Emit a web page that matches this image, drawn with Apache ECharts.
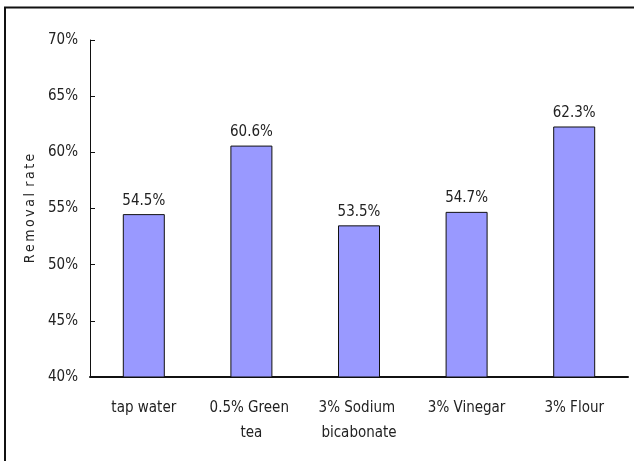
<!DOCTYPE html>
<html>
<head>
<meta charset="utf-8">
<script src="https://cdn.jsdelivr.net/npm/echarts@6/dist/echarts.min.js"></script>
<style>
  html, body { margin: 0; padding: 0; background: #fff; }
  #chart { width: 634px; height: 461px; }
</style>
</head>
<body>
<div id="chart"></div>
<script>
// Removal rate by washing solution
const categories = ['tap water', '0.5% Green tea', '3% Sodium bicabonate', '3% Vinegar', '3% Flour'];
const removalRate = [54.5, 60.6, 53.5, 54.7, 62.3];
const yTicks = [40, 45, 50, 55, 60, 65, 70];

// condensed face: the stretch keyword rides in the weight slot of the canvas font string
const FONT = '"DejaVu Sans"';
const STRETCH = 'condensed';
const TEXT = '#222';

const chart = echarts.init(document.getElementById('chart'), null, { renderer: 'canvas' });

chart.setOption({
  animation: false,
  backgroundColor: '#fff',
  graphic: [{
    type: 'rect',
    shape: { x: 5, y: 7.5, width: 700, height: 600 },
    style: { fill: 'none', stroke: '#111', lineWidth: 2 },
    silent: true
  }],
  grid: { left: 90, right: 6, top: 40, bottom: 84, outerBoundsMode: 'none', containLabel: false },
  xAxis: {
    type: 'category',
    data: categories,
    axisLine: { lineStyle: { color: '#111', width: 2 } },
    axisTick: { inside: true, length: 4, lineStyle: { color: '#111', width: 1 } },
    axisLabel: {
      color: TEXT, fontFamily: FONT, fontWeight: STRETCH, fontSize: 15, margin: 19,
      width: 88, overflow: 'break', lineHeight: 25, interval: 0
    }
  },
  yAxis: {
    type: 'value',
    min: yTicks[0],
    max: yTicks[yTicks.length - 1],
    interval: yTicks[1] - yTicks[0],
    name: 'R\u2009e\u2009m\u2009o\u2009v\u2009a\u2009l\u2002r\u2009a\u2009t\u2009e',
    nameLocation: 'middle',
    nameGap: 51,
    nameRotate: 90,
    nameTextStyle: { color: TEXT, fontFamily: FONT, fontWeight: STRETCH, fontSize: 14 },
    axisLine: { show: true, lineStyle: { color: '#111', width: 1 } },
    axisTick: { show: true, inside: true, length: 5, lineStyle: { color: '#111' } },
    axisLabel: { color: TEXT, fontFamily: FONT, fontWeight: STRETCH, fontSize: 15, margin: 12, formatter: v => v + '%' },
    splitLine: { show: false }
  },
  series: [{
    type: 'bar',
    data: removalRate,
    barWidth: 42,
    itemStyle: { color: '#9999FF', borderColor: '#111', borderWidth: 1 },
    label: {
      show: true, position: 'top', distance: 6,
      color: TEXT, fontFamily: FONT, fontWeight: STRETCH, fontSize: 15,
      formatter: p => p.value.toFixed(1) + '%'
    }
  }]
});
</script>
</body>
</html>
